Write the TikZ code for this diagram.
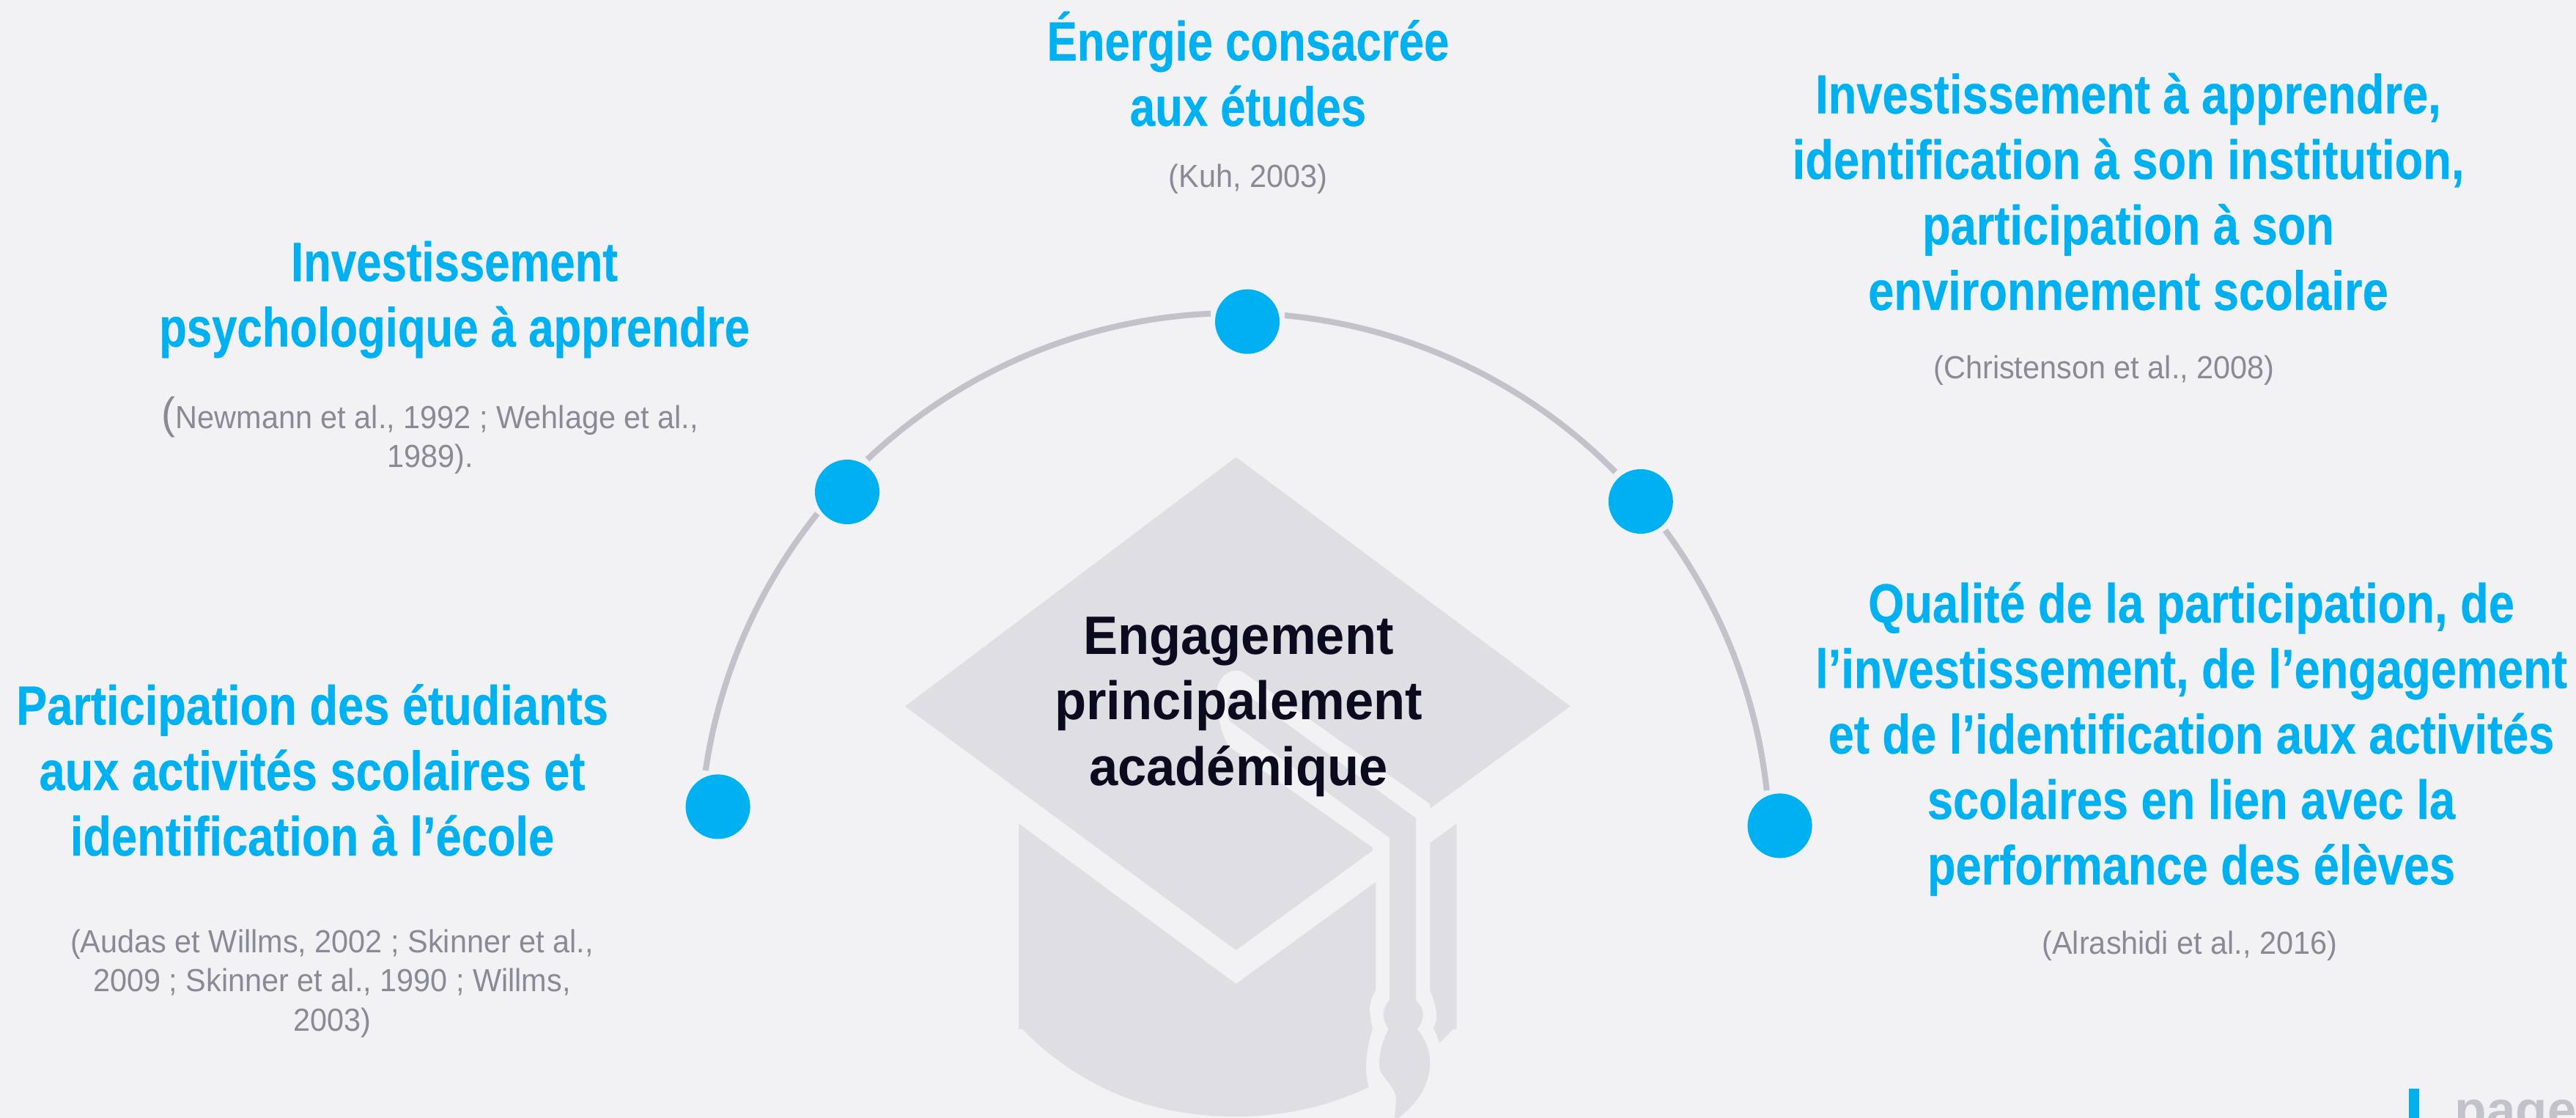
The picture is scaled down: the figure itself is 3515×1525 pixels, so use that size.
\documentclass[tikz,border=0pt]{standalone}
\usepackage{fontspec}
\setmainfont[FakeStretch=0.95]{Liberation Sans}
\newfontfamily\headfont[FakeStretch=0.82,FakeBold=0.4]{Liberation Sans Bold}
\newfontfamily\headwide[FakeStretch=0.84,FakeBold=0.4]{Liberation Sans Bold}
\newfontfamily\mainfontb[FakeStretch=0.955]{Liberation Sans Bold}
\newfontfamily\pagefont{Liberation Sans Bold}
\definecolor{bgcol}{HTML}{F2F2F5}
\definecolor{hatcol}{HTML}{DFDFE3}
\definecolor{bluecol}{HTML}{00B1F2}
\definecolor{arccol}{HTML}{C2C2CA}
\definecolor{refcol}{HTML}{8A8A96}
\definecolor{inkcol}{HTML}{0B0A1E}
\tikzset{
  hatshape/.style={fill=hatcol,draw=none},
  cutshape/.style={fill=bgcol,draw=none},
  arcline/.style={draw=arccol,line width=2.3pt},
  dot/.style={circle,fill=bluecol,draw=none,minimum size=0.88cm,inner sep=0pt},
  headtext/.style={font=\headfont\fontsize{21.4}{25.4}\selectfont,text=bluecol,align=center,inner sep=0pt,anchor=base},
  widetext/.style={headtext,font=\headwide\fontsize{21.4}{25.4}\selectfont},
  reftext/.style={font=\fontsize{12.4}{15.1}\selectfont,text=refcol,align=center,inner sep=0pt,anchor=base},
  maintext/.style={font=\mainfontb\fontsize{21}{25.4}\selectfont,text=inkcol,align=center,inner sep=0pt,anchor=base},
}
\begin{document}
\begin{tikzpicture}[x=0.01cm,y=-0.01cm]
\useasboundingbox (0,0) rectangle (3515,1525);
\fill[bgcol] (0,0) rectangle (3515,1525);
% mortarboard
\fill[hatshape] (1686.6,623.6) -- (2142.6,963.4) -- (1686.6,1296) -- (1235,963.4) -- cycle;
\fill[cutshape] (1951.3,1096.8) -- (1694,915.6) .. controls (1670,910) and (1655,935) .. (1660.5,960)
  .. controls (1663,985) and (1668,1005) .. (1678,1019) -- (1873,1156) -- (1873,1320) -- (1951.3,1320) -- cycle;
\fill[hatshape] (1390,1123.3) -- (1686.6,1342) -- (1877.3,1203) -- (1877.3,1350.4)
  .. controls (1870,1362) and (1867,1375) .. (1869.7,1383.5)
  .. controls (1870,1392) and (1872,1398) .. (1872.8,1403.5)
  .. controls (1866,1425) and (1860,1455) .. (1867.7,1483)
  .. controls (1810,1510) and (1750,1523) .. (1686.6,1523)
  .. controls (1580,1523) and (1480,1490) .. (1394.5,1403.5) -- (1390,1403.5) -- cycle;
\fill[hatshape] (1951.3,1149.8) -- (1987.6,1123.3) -- (1987.6,1403.5) -- (1983,1403.5) -- (1964,1423)
  .. controls (1961,1415) and (1959,1407) .. (1955.7,1402)
  .. controls (1960,1396) and (1961,1390) .. (1960,1383.5)
  .. controls (1960,1372) and (1955,1362) .. (1951.3,1350.4) -- cycle;
\fill[hatshape] (1932,1116) -- (1694,942) .. controls (1680,935) and (1668,955) .. (1678,983.5)
  -- (1896,1142.8) -- (1896,1364) .. controls (1890,1372) and (1887,1378) .. (1887.5,1383.5)
  .. controls (1888,1392) and (1891,1399) .. (1895,1403.5)
  .. controls (1887,1418) and (1882,1435) .. (1882,1452.5)
  .. controls (1882,1470) and (1905,1480) .. (1905,1500)
  -- (1903,1525) -- (1908,1525)
  .. controls (1935,1505) and (1951.3,1478) .. (1951.3,1449.6)
  .. controls (1951.3,1430) and (1943,1414) .. (1933.4,1403.5)
  .. controls (1939,1398) and (1941.7,1391) .. (1941.7,1383.5)
  .. controls (1941.7,1376) and (1937,1371) .. (1932,1364) -- cycle;
% arc
\coordinate (arccentre) at (1685,1157);
\draw[arcline] ([shift={(-171.65:730 and 730)}]arccentre) arc[start angle=-171.65,end angle=-141.3,radius=730];
\draw[arcline] ([shift={(-133.4:730 and 730)}]arccentre) arc[start angle=-133.4,end angle=-92.6,radius=730];
\draw[arcline] ([shift={(-84.66:730 and 730)}]arccentre) arc[start angle=-84.66,end angle=-44.66,radius=730];
\draw[arcline] ([shift={(-36.45:730 and 730)}]arccentre) arc[start angle=-36.45,end angle=-6.2,radius=730];
% dots
\node[dot] (d1) at (979.6,1100.4) {};
\node[dot] (d2) at (1156,671) {};
\node[dot] (d3) at (1702,438.7) {};
\node[dot] (d4) at (2238.8,684) {};
\node[dot] (d5) at (2428.6,1126.4) {};
% centre
\node[maintext] (main) at (1690,1071) {Engagement\\principalement\\académique};
% heads
\node[headtext] (h3) at (1703,171.7) {Énergie consacrée\\aux études};
\node[reftext] (r3) at (1703,256) {(Kuh, 2003)};
\node[headtext] (h2) at (620,472.7) {Investissement\\psychologique à apprendre};
\node[reftext] (r2) at (587,638) {{\fontsize{17}{15.1}\selectfont(}Newmann et al., 1992 ; Wehlage et al.,\\1989).};
\node[widetext] (h4) at (2904,422.7) {Investissement à apprendre,\\identification à son institution,\\participation à son\\environnement scolaire};
\node[reftext] (r4) at (2871,517) {(Christenson et al., 2008)};
\node[widetext] (h1) at (426,1167) {Participation des étudiants\\aux activités scolaires et\\identification à l’école};
\node[reftext] (r1) at (453,1406) {(Audas et Willms, 2002 ; Skinner et al.,\\2009 ; Skinner et al., 1990 ; Willms,\\2003)};
\node[widetext] (h5) at (2990,1206.4) {Qualité de la participation, de\\l’investissement, de l’engagement\\et de l’identification aux activités\\scolaires en lien avec la\\performance des élèves};
\node[reftext] (r5) at (2988,1301.4) {(Alrashidi et al., 2016)};
% page mark
\fill[bluecol] (3287,1485) rectangle (3300.7,1525);
\node[font=\pagefont\fontsize{20.2}{24}\selectfont,text=arccol,anchor=base west,inner sep=0pt] (pg) at (3349,1538.6) {page};
\end{tikzpicture}
\end{document}
